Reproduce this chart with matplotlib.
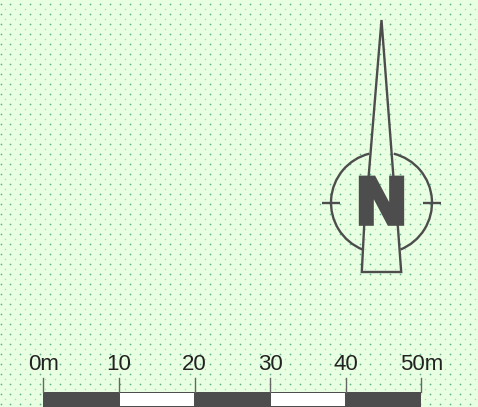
import numpy as np
import matplotlib
matplotlib.use("Agg")
import matplotlib.pyplot as plt
import matplotlib.patheffects as pe
from matplotlib.patches import Arc, Rectangle

# Scale bar
scale_ticks = [0, 10, 20, 30, 40, 50]
scale_labels = ["0m", "10", "20", "30", "40", "50m"]
scale_fill = ["#4d4d4d", "#ffffff", "#4d4d4d", "#ffffff", "#4d4d4d"]

# North arrow, in pixels of the drawing
needle_x = [368.5, 381.5, 393.5]
needle_y = [178, 20, 178]
tail_x = [364.3, 361.8, 401.2, 397.6]
tail_y = [223, 272, 272, 223]
rose_centre = (381.5, 202.7)
rose_radius = 50.5

BG = "#e9ffe2"
DARK = "#4d4d4d"

W, H = 478, 407
fig = plt.figure(figsize=(W / 100, H / 100), dpi=100, facecolor=BG)
ax = fig.add_axes([0, 0, 1, 1])
ax.set_xlim(0, W)
ax.set_ylim(H, 0)
ax.axis("off")

# dotted texture: staggered lattice
xa, ya = np.meshgrid(np.arange(0, W + 10, 10) + 0.5, np.arange(4, H + 10, 10))
xb, yb = np.meshgrid(np.arange(5, W + 10, 10) + 0.5, np.arange(9, H + 10, 10))
ax.scatter(xa.ravel(), ya.ravel(), s=1.5, c="#5fb08a", lw=0, zorder=1)
ax.scatter(xb.ravel(), yb.ravel(), s=1.2, c="#a8dbba", lw=0, zorder=1)

# north arrow
line = dict(color=DARK, lw=1.7, solid_capstyle="butt", solid_joinstyle="miter", zorder=3)
ax.plot(needle_x, needle_y, **line)
ax.plot(tail_x, tail_y, **line)
cx, cy = rose_centre
d = 2 * rose_radius
# y axis is inverted: matplotlib angles run clockwise on screen
ax.add_patch(Arc(rose_centre, d, d, theta1=-76, theta2=68, color=DARK, lw=1.7, zorder=3))
ax.add_patch(Arc(rose_centre, d, d, theta1=112, theta2=256, color=DARK, lw=1.7, zorder=3))
ax.plot([322.5, 340.5], [cy, cy], **line)
ax.plot([423, 441], [cy, cy], **line)
ax.text(381.5, 206, "N", family="DejaVu Sans", weight="bold", fontsize=46, color=DARK,
        ha="center", va="center", zorder=4,
        path_effects=[pe.withStroke(linewidth=2.6, foreground=DARK, joinstyle="miter")])

# scale bar
x0, x1 = 43.5, 421.5
sx = lambda v: x0 + (x1 - x0) * np.asarray(v) / 50.0
for a, b, c in zip(scale_ticks[:-1], scale_ticks[1:], scale_fill):
    ax.add_patch(Rectangle((sx(a), 392), sx(b) - sx(a), 15, fc=DARK, ec="none", zorder=3))
    if c == "#ffffff":
        ax.add_patch(Rectangle((sx(a) + 0.5, 393), sx(b) - sx(a) - 1, 12.7, fc=c, ec="none", zorder=4))
for t, lab in zip(scale_ticks, scale_labels):
    ax.plot([sx(t), sx(t)], [378, 392], color="#666666", lw=1.0, zorder=3)
    ax.text(sx(t), 370, lab, family="Liberation Sans", fontsize=16,
            color="#222222", ha="center", va="baseline", zorder=5)

fig.savefig("out.png", dpi=100, facecolor=BG)
